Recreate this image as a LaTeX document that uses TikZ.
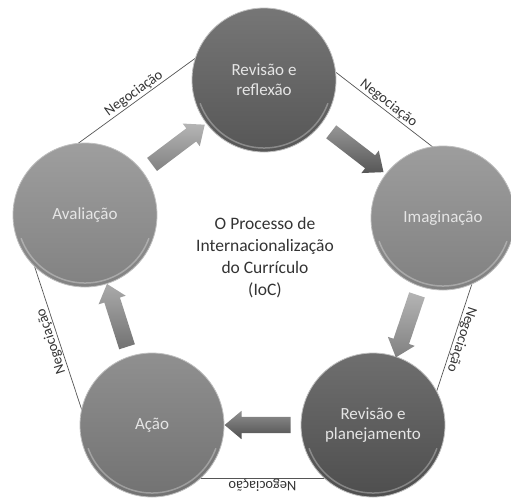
\documentclass[tikz,border=0pt]{standalone}
\usepackage{fontspec}
\setmainfont{Carlito}
\usetikzlibrary{calc,shapes.arrows}
\definecolor{cT}{HTML}{5E5E5E}
\definecolor{cR}{HTML}{8C8C8C}
\definecolor{cBR}{HTML}{555555}
\definecolor{cBL}{HTML}{7C7C7C}
\definecolor{cL}{HTML}{8D8D8D}
\definecolor{linec}{HTML}{555555}
\definecolor{txtc}{HTML}{333333}
\tikzset{
  ball/.style={circle, minimum size=144pt, inner sep=0pt, align=center,
    text=white!90!black, font=\fontsize{17}{20}\selectfont,
    top color=#1!85!white, bottom color=#1!92!black,
    draw=white!75!black, line width=0.8pt},
  rim/.style={white, line width=1.5pt, opacity=0.3},
  negline/.style={draw=linec, line width=0.7pt},
  neglabel/.style={midway, sloped, allow upside down, above=0pt, inner sep=1pt,
    text=txtc, font=\fontsize{14.5}{15}\selectfont},
  blockarrow/.style={midway, sloped, allow upside down, single arrow,
    minimum height=66pt, single arrow head extend=6pt, single arrow tip angle=80,
    single arrow head indent=0pt, inner sep=0pt,
    top color=#1!65!white, bottom color=#1!92!black, draw=none},
  centertext/.style={align=center, text=txtc, font=\fontsize{17.5}{22}\selectfont}
}
\newcommand{\shaft}{\rule{0pt}{16pt}}
\begin{document}
\begin{tikzpicture}[x=1pt,y=-1pt]
\useasboundingbox (0,0) rectangle (511,499);
% centers (coordinates)
\coordinate (cT) at (264,80);
\coordinate (cR) at (443,218);
\coordinate (cBR) at (373,425);
\coordinate (cBL) at (152,425);
\coordinate (cL) at (85,215);
% negotiation lines (behind circles)
\path[negline] ($(cL)!62pt!90:(cT)$) -- ($(cT)!58pt!-90:(cL)$)
  node[neglabel]{Negociação};
\path[negline] ($(cT)!50pt!90:(cR)$) -- ($(cR)!50pt!-90:(cT)$)
  node[neglabel]{Negociação};
\path[negline] ($(cR)!48pt!90:(cBR)$) -- ($(cBR)!50pt!-90:(cR)$)
  node[neglabel]{Negociação};
\path[negline] ($(cBR)!53pt!90:(cBL)$) -- ($(cBL)!53pt!-90:(cBR)$)
  node[neglabel]{Negociação};
\path[negline] ($(cBL)!62pt!90:(cL)$) -- ($(cL)!64pt!-90:(cBL)$)
  node[neglabel]{Negociação};
% circles
\node[ball=cT] (T) at (cT) {Revisão e\\reflexão};
\node[ball=cR] (R) at (cR) {Imaginação};
\node[ball=cBR] (BR) at (cBR) {Revisão e\\planejamento};
\node[ball=cBL] (BL) at (cBL) {Ação};
\node[ball=cL] (L) at (cL) {Avaliação};
% rims
\foreach \n in {T,R,BR,BL,L}{
  \draw[rim] ($(\n.center)+(-20:68pt)$) arc[start angle=-20, end angle=-160, radius=68pt];
}
% arrows
\path (T) -- (R) node[blockarrow=cT]{\shaft};
\path (R) -- (BR) node[blockarrow=cR]{\shaft};
\path (BR) -- (BL) node[blockarrow=cBR]{\shaft};
\path (BL) -- (L) node[blockarrow=cBL]{\shaft};
\path (L) -- (T) node[blockarrow=cL]{\shaft};
% center text
\node[centertext] (C) at (265,258) {O Processo de\\Internacionalização\\do Currículo\\(IoC)};
\end{tikzpicture}
\end{document}
